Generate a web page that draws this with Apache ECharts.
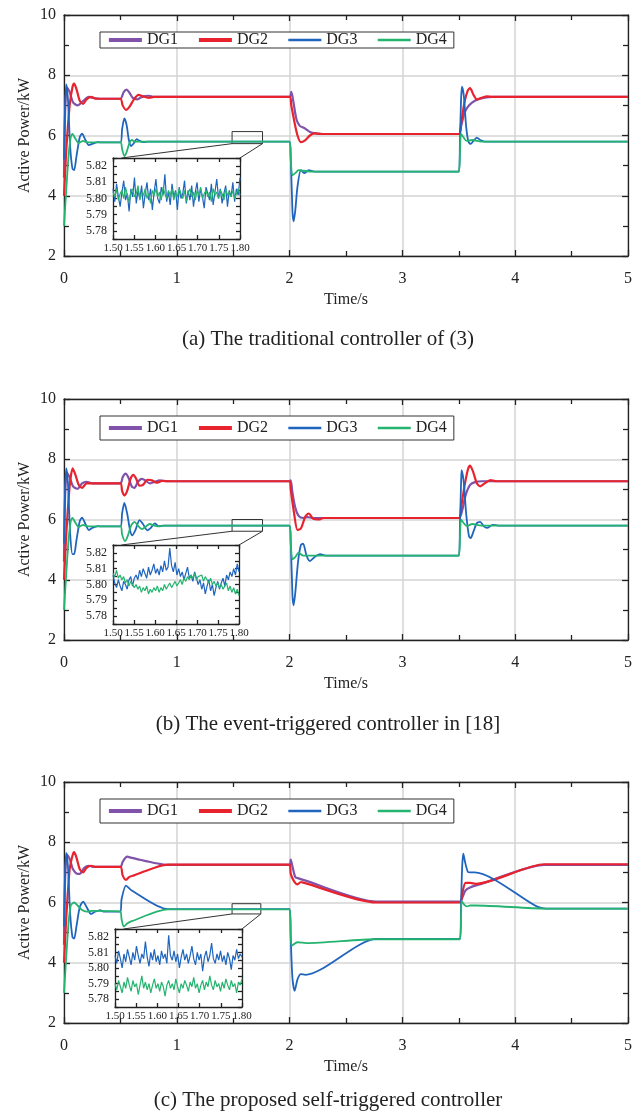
<!DOCTYPE html>
<html>
<head>
<meta charset="utf-8">
<script src="https://cdn.jsdelivr.net/npm/echarts@6/dist/echarts.min.js"></script>
<style>
  html, body { margin: 0; padding: 0; background: #fff; }
  #chart { width: 641px; height: 1114px; }
</style>
</head>
<body>
<div id="chart"></div>
<script>
// ---- data ----
const seriesNames = ["DG1", "DG2", "DG3", "DG4"];
const seriesColors = ["#8052aa", "#e8232d", "#1f65be", "#25b46f"];
const captions = [
  "(a) The traditional controller of (3)",
  "(b) The event-triggered controller in [18]",
  "(c) The proposed self-triggered controller"
];

// (a) traditional controller, [time s, power kW]
const a_dg1 = [[0,4.6],[0.01,6.8],[0.025,7.6],[0.05,7.45],[0.08,7.1],[0.12,7.0],[0.17,7.15],[0.22,7.28],[0.27,7.24],[0.32,7.22],[0.5,7.22],[0.53,7.45],[0.555,7.52],[0.58,7.42],[0.61,7.25],[0.65,7.2],[0.7,7.3],[0.75,7.32],[0.8,7.28],[0.9,7.28],[2.0,7.28],[2.015,7.45],[2.03,7.2],[2.06,6.55],[2.09,6.32],[2.13,6.25],[2.18,6.12],[2.23,6.07],[2.3,6.05],[3.5,6.05],[3.52,6.3],[3.55,6.75],[3.58,6.95],[3.62,7.1],[3.67,7.2],[3.73,7.26],[3.8,7.28],[5,7.28]];
const a_dg2 = [[0,4.0],[0.02,5.5],[0.05,7.0],[0.075,7.6],[0.09,7.72],[0.11,7.55],[0.14,7.15],[0.17,7.05],[0.2,7.2],[0.24,7.28],[0.28,7.22],[0.5,7.22],[0.52,7.0],[0.55,6.85],[0.58,6.95],[0.62,7.2],[0.66,7.35],[0.7,7.3],[0.75,7.25],[0.8,7.28],[2.0,7.28],[2.015,7.0],[2.04,6.5],[2.07,6.0],[2.1,5.78],[2.14,5.85],[2.18,6.0],[2.22,6.07],[2.28,6.05],[3.5,6.05],[3.52,6.4],[3.55,7.1],[3.58,7.5],[3.6,7.57],[3.63,7.35],[3.66,7.2],[3.7,7.25],[3.75,7.3],[3.8,7.28],[5,7.28]];
const a_dg3 = [[0,5.2],[0.01,7.0],[0.02,7.7],[0.035,7.2],[0.055,5.6],[0.075,4.9],[0.09,4.85],[0.11,5.3],[0.14,5.95],[0.16,6.06],[0.19,5.85],[0.22,5.68],[0.25,5.72],[0.3,5.78],[0.35,5.77],[0.5,5.77],[0.515,6.2],[0.535,6.57],[0.555,6.35],[0.575,5.85],[0.595,5.65],[0.62,5.75],[0.645,5.88],[0.67,5.82],[0.7,5.78],[0.75,5.8],[2.0,5.8],[2.01,5.3],[2.025,3.5],[2.035,3.15],[2.05,3.5],[2.07,4.3],[2.1,4.85],[2.13,4.75],[2.17,4.85],[2.22,4.8],[3.5,4.8],[3.51,5.8],[3.52,7.2],[3.528,7.62],[3.545,7.3],[3.565,6.3],[3.585,5.8],[3.605,5.72],[3.63,5.82],[3.66,5.93],[3.69,5.85],[3.73,5.8],[5,5.8]];
const a_dg4 = [[0,3.0],[0.02,4.2],[0.04,5.3],[0.06,5.95],[0.075,6.05],[0.1,5.9],[0.13,5.75],[0.17,5.82],[0.2,5.78],[0.25,5.77],[0.5,5.77],[0.515,5.55],[0.535,5.32],[0.555,5.45],[0.58,5.75],[0.6,5.85],[0.63,5.8],[0.7,5.8],[2.0,5.8],[2.01,5.2],[2.025,4.68],[2.05,4.75],[2.08,4.85],[2.12,4.83],[2.2,4.8],[3.5,4.8],[3.51,5.4],[3.52,6.05],[3.54,5.95],[3.57,5.82],[3.62,5.85],[3.7,5.8],[5,5.8]];

// (b) event-triggered controller
const b_dg1 = [[0,4.6],[0.01,6.8],[0.025,7.55],[0.05,7.4],[0.08,7.1],[0.12,7.02],[0.16,7.2],[0.2,7.25],[0.25,7.2],[0.5,7.2],[0.52,7.4],[0.545,7.52],[0.57,7.4],[0.6,7.1],[0.625,7.05],[0.655,7.25],[0.69,7.35],[0.72,7.3],[0.76,7.2],[0.8,7.25],[0.85,7.3],[0.9,7.27],[2.0,7.27],[2.01,7.3],[2.025,6.9],[2.05,6.4],[2.08,6.12],[2.12,6.05],[2.16,6.08],[2.2,6.05],[3.5,6.05],[3.53,6.3],[3.56,6.8],[3.6,7.15],[3.65,7.25],[3.7,7.27],[5,7.27]];
const b_dg2 = [[0,4.0],[0.02,5.5],[0.05,7.1],[0.077,7.7],[0.1,7.5],[0.13,7.15],[0.16,7.05],[0.2,7.2],[0.25,7.2],[0.5,7.2],[0.515,6.95],[0.535,6.8],[0.56,6.95],[0.59,7.35],[0.615,7.48],[0.64,7.35],[0.67,7.12],[0.7,7.15],[0.74,7.32],[0.78,7.3],[0.82,7.22],[0.87,7.28],[0.95,7.27],[2.0,7.27],[2.01,7.0],[2.04,6.2],[2.07,5.65],[2.1,5.7],[2.14,6.1],[2.17,6.2],[2.21,6.02],[2.26,6.0],[2.3,6.05],[3.5,6.05],[3.52,6.4],[3.55,7.1],[3.58,7.65],[3.6,7.79],[3.63,7.55],[3.66,7.2],[3.69,7.1],[3.73,7.2],[3.78,7.31],[3.83,7.27],[5,7.27]];
const b_dg3 = [[0,5.2],[0.01,7.0],[0.02,7.7],[0.035,7.2],[0.055,5.5],[0.075,4.85],[0.09,4.85],[0.11,5.3],[0.14,5.95],[0.16,6.06],[0.19,5.85],[0.22,5.65],[0.25,5.72],[0.3,5.78],[0.35,5.77],[0.5,5.77],[0.515,6.2],[0.535,6.55],[0.56,6.2],[0.585,5.65],[0.605,5.47],[0.63,5.62],[0.67,5.98],[0.7,5.85],[0.74,5.64],[0.77,5.72],[0.805,5.87],[0.84,5.78],[0.88,5.8],[2.0,5.8],[2.01,5.3],[2.025,3.5],[2.035,3.15],[2.05,3.55],[2.075,4.6],[2.1,5.15],[2.12,5.2],[2.15,4.8],[2.18,4.62],[2.22,4.75],[2.27,4.85],[2.32,4.8],[3.5,4.8],[3.51,5.8],[3.52,7.2],[3.525,7.64],[3.545,7.2],[3.565,6.2],[3.59,5.45],[3.605,5.38],[3.63,5.6],[3.66,5.88],[3.69,5.92],[3.72,5.78],[3.75,5.72],[3.8,5.82],[3.85,5.8],[5,5.8]];
const b_dg4 = [[0,3.0],[0.02,4.2],[0.04,5.3],[0.06,5.95],[0.075,6.05],[0.1,5.9],[0.13,5.75],[0.17,5.82],[0.2,5.78],[0.25,5.77],[0.5,5.77],[0.515,5.5],[0.54,5.28],[0.565,5.45],[0.595,5.8],[0.625,5.92],[0.655,5.8],[0.69,5.68],[0.72,5.75],[0.76,5.85],[0.8,5.8],[0.85,5.77],[0.9,5.8],[2.0,5.8],[2.01,5.2],[2.025,4.68],[2.05,4.75],[2.08,4.9],[2.12,4.8],[2.2,4.8],[3.5,4.8],[3.51,5.4],[3.52,6.0],[3.54,5.9],[3.57,5.78],[3.62,5.85],[3.7,5.8],[5,5.8]];

// (c) proposed self-triggered controller
const c_dg1 = [[0,4.6],[0.01,6.8],[0.025,7.6],[0.05,7.45],[0.08,7.1],[0.12,6.95],[0.14,6.95],[0.18,7.15],[0.22,7.22],[0.27,7.18],[0.5,7.18],[0.52,7.35],[0.56,7.52],[0.6,7.48],[0.92,7.25],[2.0,7.25],[2.01,7.42],[2.025,7.2],[2.05,6.85],[2.08,6.8],[2.12,6.75],[2.77,6.03],[3.51,6.03],[3.53,6.15],[3.56,6.4],[3.6,6.5],[3.7,6.62],[4.26,7.25],[5,7.25]];
const c_dg2 = [[0,4.0],[0.02,5.5],[0.05,7.1],[0.075,7.55],[0.09,7.67],[0.11,7.5],[0.14,7.1],[0.17,7.0],[0.2,7.15],[0.24,7.22],[0.28,7.18],[0.5,7.18],[0.52,6.9],[0.55,6.75],[0.58,6.85],[0.62,6.9],[0.92,7.26],[2.0,7.26],[2.01,6.95],[2.04,6.7],[2.07,6.6],[2.1,6.68],[2.13,6.65],[2.77,6.0],[3.51,6.0],[3.53,6.3],[3.56,6.65],[3.6,6.65],[3.65,6.62],[4.26,7.27],[5,7.27]];
const c_dg3 = [[0,5.2],[0.01,7.0],[0.02,7.65],[0.035,7.2],[0.055,5.6],[0.075,4.85],[0.09,4.8],[0.11,5.2],[0.14,5.85],[0.17,6.03],[0.2,5.85],[0.24,5.62],[0.28,5.7],[0.32,5.75],[0.35,5.7],[0.5,5.7],[0.51,6.1],[0.55,6.56],[0.6,6.4],[0.92,5.78],[2.0,5.78],[2.01,4.8],[2.025,3.5],[2.045,3.07],[2.07,3.45],[2.1,3.62],[2.14,3.6],[2.77,4.79],[3.51,4.79],[3.52,6.0],[3.53,7.2],[3.54,7.62],[3.555,7.35],[3.58,7.02],[3.6,7.0],[3.64,7.0],[4.19,5.87],[4.27,5.8],[5,5.8]];
const c_dg4 = [[0,3.0],[0.02,4.2],[0.04,5.3],[0.06,5.9],[0.09,6.0],[0.12,5.9],[0.16,5.75],[0.2,5.7],[0.25,5.72],[0.5,5.7],[0.51,5.45],[0.53,5.2],[0.56,5.3],[0.6,5.38],[0.92,5.77],[2.0,5.77],[2.01,5.0],[2.02,4.57],[2.07,4.68],[2.15,4.65],[2.77,4.78],[3.51,4.78],[3.52,5.5],[3.525,6.05],[3.55,5.92],[3.57,5.87],[3.6,5.9],[3.65,5.9],[4.27,5.8],[5,5.8]];

// zoomed windows 1.50-1.80 s, equally spaced samples (DG3, DG4)
const insetA_dg3 = [5.806,5.798,5.809,5.801,5.795,5.804,5.811,5.799,5.803,5.792,5.806,5.801,5.813,5.797,5.805,5.800,5.808,5.794,5.803,5.810,5.799,5.806,5.793,5.804,5.812,5.800,5.797,5.807,5.802,5.815,5.798,5.804,5.796,5.809,5.801,5.805,5.793,5.807,5.800,5.803,5.811,5.797,5.805,5.799,5.808,5.795,5.804,5.810,5.798,5.806,5.801,5.794,5.807,5.803,5.799,5.809,5.796,5.804,5.812,5.800,5.806,5.797,5.803,5.808,5.795,5.805,5.801,5.810,5.798,5.806,5.802,5.813];
const insetA_dg4 = [5.804,5.801,5.806,5.799,5.803,5.805,5.800,5.807,5.802,5.798,5.804,5.806,5.801,5.803,5.808,5.799,5.804,5.802,5.806,5.800,5.803,5.797,5.805,5.802,5.806,5.801,5.804,5.799,5.807,5.803,5.800,5.805,5.802,5.806,5.799,5.804,5.801,5.806,5.803,5.800,5.805,5.798,5.803,5.806,5.801,5.804,5.799,5.805,5.802,5.807,5.800,5.803,5.805,5.801,5.804,5.798,5.806,5.802,5.804,5.800,5.805,5.803,5.799,5.806,5.802,5.804,5.801,5.805,5.800,5.803,5.806,5.802];
const insetB_dg3 = [5.806,5.801,5.798,5.803,5.799,5.796,5.802,5.800,5.797,5.803,5.805,5.799,5.804,5.806,5.803,5.809,5.805,5.810,5.807,5.804,5.811,5.806,5.809,5.813,5.807,5.810,5.806,5.812,5.808,5.815,5.809,5.811,5.823,5.812,5.808,5.814,5.806,5.810,5.805,5.808,5.803,5.807,5.811,5.804,5.806,5.802,5.808,5.804,5.800,5.803,5.797,5.801,5.794,5.799,5.803,5.796,5.800,5.793,5.798,5.802,5.797,5.801,5.804,5.799,5.806,5.803,5.808,5.805,5.810,5.806,5.813,5.808];
const insetB_dg4 = [5.807,5.805,5.809,5.804,5.806,5.803,5.805,5.801,5.803,5.799,5.802,5.800,5.798,5.800,5.797,5.799,5.795,5.798,5.796,5.799,5.794,5.797,5.795,5.798,5.796,5.799,5.795,5.798,5.796,5.800,5.797,5.799,5.801,5.798,5.800,5.802,5.799,5.801,5.803,5.800,5.804,5.802,5.805,5.803,5.806,5.804,5.807,5.803,5.805,5.804,5.806,5.802,5.805,5.803,5.801,5.804,5.800,5.802,5.799,5.801,5.798,5.800,5.797,5.799,5.801,5.796,5.799,5.795,5.798,5.794,5.797,5.793];
const insetC_dg3 = [5.808,5.803,5.811,5.806,5.800,5.809,5.804,5.812,5.807,5.802,5.810,5.805,5.814,5.808,5.803,5.809,5.806,5.817,5.807,5.801,5.810,5.805,5.812,5.804,5.808,5.802,5.811,5.806,5.809,5.803,5.821,5.808,5.805,5.811,5.804,5.809,5.800,5.807,5.812,5.805,5.809,5.803,5.808,5.814,5.806,5.802,5.810,5.805,5.809,5.798,5.807,5.811,5.804,5.808,5.816,5.806,5.803,5.809,5.805,5.811,5.804,5.808,5.802,5.810,5.806,5.799,5.808,5.805,5.812,5.806,5.809,5.807];
const insetC_dg4 = [5.790,5.786,5.792,5.788,5.784,5.791,5.787,5.794,5.789,5.785,5.792,5.788,5.790,5.783,5.789,5.795,5.787,5.791,5.786,5.790,5.784,5.789,5.793,5.787,5.790,5.785,5.791,5.788,5.782,5.789,5.792,5.787,5.790,5.786,5.793,5.788,5.784,5.790,5.787,5.792,5.789,5.785,5.791,5.788,5.794,5.787,5.790,5.784,5.789,5.792,5.786,5.791,5.788,5.795,5.789,5.786,5.792,5.788,5.790,5.785,5.791,5.787,5.793,5.789,5.786,5.792,5.788,5.790,5.784,5.791,5.789,5.793];

// zoom boxes on the main axes: [t0, t1, p0, p1]
const zoomBoxA = [1.49, 1.76, 5.73, 6.13];
const zoomBoxB = [1.49, 1.76, 5.61, 6.0];
const zoomBoxC = [1.49, 1.745, 5.62, 5.96];

// ---- layout ----
const FONT = "Liberation Serif";
const panels = [
  { top: 15, capTop: 329, legPad: 0, inset: { left: 113, top: 158, width: 127, height: 81 },
    curves: [a_dg1, a_dg2, a_dg3, a_dg4], zoom: [insetA_dg3, insetA_dg4], box: zoomBoxA },
  { top: 399, capTop: 714, legPad: 4, inset: { left: 113, top: 545, width: 126, height: 79 },
    curves: [b_dg1, b_dg2, b_dg3, b_dg4], zoom: [insetB_dg3, insetB_dg4], box: zoomBoxB },
  { top: 782, capTop: 1090, legPad: 4, inset: { left: 115, top: 929, width: 127, height: 78 },
    curves: [c_dg1, c_dg2, c_dg3, c_dg4], zoom: [insetC_dg3, insetC_dg4], box: zoomBoxC }
];

const ink = "#222";
const frame = { show: true, onZero: false, lineStyle: { color: ink, width: 1.3 } };
const tick = (len) => ({ show: true, inside: true, length: len, lineStyle: { color: ink, width: 1.3 } });
const minor = (n, len) => ({ show: true, splitNumber: n, length: len, lineStyle: { color: ink, width: 1.3 } });
const noLabel = { show: false };
const noSplit = { show: false };
const gridLine = { show: true, lineStyle: { color: "#d4d4d4", width: 1.5 } };

const grid = [], xAxis = [], yAxis = [], series = [], legend = [], title = [];

panels.forEach((p, k) => {
  // main plot
  const g = grid.length;
  grid.push({ left: 64, right: 13, top: p.top, height: 241 });
  p.xi = xAxis.length;
  xAxis.push({
    gridIndex: g, type: "value", min: 0, max: 5, interval: 1,
    axisLine: frame, axisTick: tick(6), minorTick: minor(2, 5), splitLine: gridLine,
    axisLabel: { fontFamily: FONT, fontSize: 16, color: ink, margin: 15 },
    name: "Time/s", nameLocation: "middle", nameGap: 36, nameMoveOverlap: false,
    nameTextStyle: { fontFamily: FONT, fontSize: 16, color: ink }
  });
  xAxis.push({
    gridIndex: g, type: "value", position: "top", min: 0, max: 5, interval: 1,
    axisLine: frame, axisTick: tick(6), minorTick: minor(2, 5), splitLine: noSplit, axisLabel: noLabel
  });
  p.yi = yAxis.length;
  yAxis.push({
    gridIndex: g, type: "value", min: 2, max: 10, interval: 2,
    axisLine: frame, axisTick: tick(6), minorTick: minor(2, 5), splitLine: gridLine,
    axisLabel: { fontFamily: FONT, fontSize: 16, color: ink, margin: 8 },
    name: "Active Power/kW", nameLocation: "middle", nameGap: 31, nameMoveOverlap: false,
    nameTextStyle: { fontFamily: FONT, fontSize: 16, color: ink }
  });
  yAxis.push({
    gridIndex: g, type: "value", position: "right", min: 2, max: 10, interval: 2,
    axisLine: frame, axisTick: tick(6), minorTick: minor(2, 5), splitLine: noSplit, axisLabel: noLabel
  });

  p.curves.forEach((d, s) => {
    const item = {
      name: seriesNames[s], type: "line", xAxisIndex: p.xi, yAxisIndex: p.yi,
      data: d, symbol: "none", smooth: 0.25, z: 2 + s,
      lineStyle: { width: s < 2 ? 2.2 : 1.8, color: seriesColors[s] },
      itemStyle: { color: seriesColors[s] }
    };
    if (s === 3) {
      item.markArea = {
        silent: true,
        itemStyle: { color: "rgba(0,0,0,0)", borderColor: "#333", borderWidth: 1 },
        data: [[{ xAxis: p.box[0], yAxis: p.box[2] }, { xAxis: p.box[1], yAxis: p.box[3] }]]
      };
    }
    series.push(item);
  });

  // inset
  const ig = grid.length;
  grid.push(p.inset);
  p.cx = xAxis.length;
  xAxis.push({ gridIndex: ig, type: "category", boundaryGap: false, show: false,
    data: p.zoom[0].map((_, i) => i) });
  p.vx = xAxis.length;
  xAxis.push({
    gridIndex: ig, type: "value", position: "bottom", min: 1.5, max: 1.8, interval: 0.05,
    axisLine: frame, axisTick: tick(4), splitLine: noSplit,
    axisLabel: { fontFamily: FONT, fontSize: 11, color: ink, margin: 4, formatter: (v) => v.toFixed(2) }
  });
  xAxis.push({
    gridIndex: ig, type: "value", position: "top", min: 1.5, max: 1.8, interval: 0.05,
    axisLine: frame, axisTick: tick(4), splitLine: noSplit, axisLabel: noLabel
  });
  p.iy = yAxis.length;
  yAxis.push({
    gridIndex: ig, type: "value", min: 5.775, max: 5.825, interval: 0.005,
    axisLine: frame, axisTick: tick(4), splitLine: noSplit,
    axisLabel: { fontFamily: FONT, fontSize: 12, color: ink, margin: 6,
      formatter: (v) => (Math.round(v * 1000) % 10 === 0 ? v.toFixed(2) : "") }
  });
  yAxis.push({
    gridIndex: ig, type: "value", position: "right", min: 5.775, max: 5.825, interval: 0.005,
    axisLine: frame, axisTick: tick(4), splitLine: noSplit, axisLabel: noLabel
  });
  p.zoom.forEach((d, s) => {
    series.push({
      name: seriesNames[s + 2], type: "line", xAxisIndex: p.cx, yAxisIndex: p.iy,
      data: d, symbol: "none", z: 3 + s,
      lineStyle: { width: 1.2, color: seriesColors[s + 2] }
    });
  });

  legend.push({
    left: 100, top: p.top + 17, itemWidth: 33, itemHeight: 14, itemGap: 19,
    padding: [p.legPad, 7], borderColor: "#333", borderWidth: 1, backgroundColor: "#fff",
    selectedMode: false,
    textStyle: { fontFamily: FONT, fontSize: 16, color: ink },
    data: seriesNames.map((n, s) => ({
      name: n,
      itemStyle: { opacity: 0 },
      lineStyle: { width: s < 2 ? 3.8 : 2.6, color: seriesColors[s], opacity: 1 }
    }))
  });

  title.push({
    text: captions[k], left: 328, top: p.capTop, textAlign: "center", padding: 0,
    textStyle: { fontFamily: FONT, fontSize: 21, fontWeight: "normal", color: ink }
  });
});

const chart = echarts.init(document.getElementById("chart"), null, { renderer: "canvas" });
chart.setOption({ animation: false, backgroundColor: "#fff", grid, xAxis, yAxis, series, legend, title });

// connector lines from each zoom box to its inset, placed through the axes
const connectors = [];
panels.forEach((p) => {
  const main = { xAxisIndex: p.xi, yAxisIndex: p.yi };
  const ins = { xAxisIndex: p.vx, yAxisIndex: p.iy };
  const bl = chart.convertToPixel(main, [p.box[0], p.box[2]]);
  const br = chart.convertToPixel(main, [p.box[1], p.box[2]]);
  const tl = chart.convertToPixel(ins, [1.52, 5.825]);
  const tr = chart.convertToPixel(ins, [1.8, 5.825]);
  [[bl, tl], [br, tr]].forEach(([a, b]) => {
    connectors.push({
      type: "line", silent: true, z: 10,
      shape: { x1: a[0], y1: a[1], x2: b[0], y2: b[1] },
      style: { stroke: "#333", lineWidth: 1 }
    });
  });
});
chart.setOption({ graphic: connectors });
</script>
</body>
</html>
